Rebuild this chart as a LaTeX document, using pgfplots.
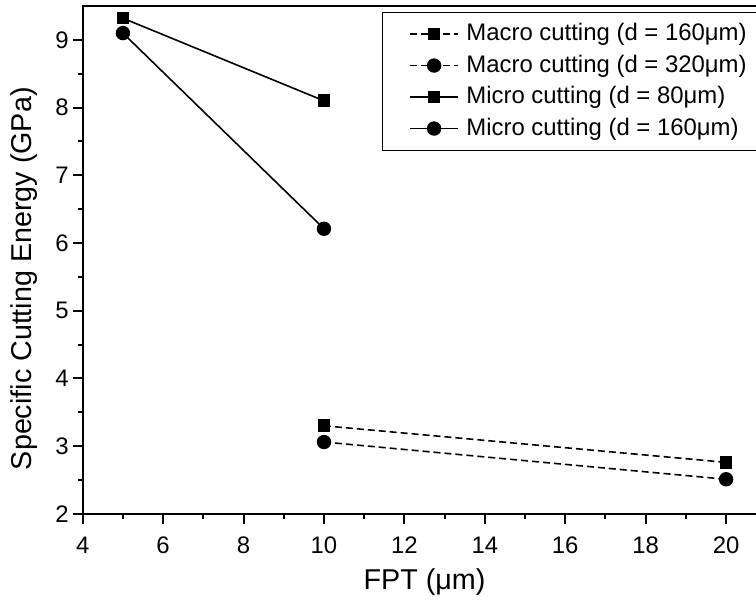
\documentclass[border=0pt]{standalone}
\usepackage{fontspec}
\setmainfont{Liberation Sans}
\usepackage{pgfplots}
\pgfplotsset{compat=1.18}

\pgfplotsset{
  lgimg/.style={legend image code/.code={
    \path (-5bp,0bp) (26bp,0bp);
    \draw[mark repeat=2,mark phase=2,##1]
      plot coordinates {(0bp,0bp) (12bp,0bp) (24bp,0bp)};}},
}

\begin{document}
\begin{tikzpicture}
% page = reference frame, the right edge of the axis is cut off as in the original
\useasboundingbox (-41.35bp,-46.5bp) rectangle (336.65bp,256.9bp);
\clip (-41.35bp,-46.5bp) rectangle (336.65bp,256.9bp);
\begin{axis}[
    at={(0,0)}, anchor=south west,
    width=341.8bp, height=253.9bp, scale only axis,
    xmin=4, xmax=21, ymin=2, ymax=9.5,
    xtick={4,6,...,20}, ytick={2,3,...,9},
    minor x tick num=1, minor y tick num=1,
    tick align=outside, xtick pos=bottom, ytick pos=left,
    major tick length=5bp, minor tick length=2.5bp,
    axis line style={line width=1bp},
    every tick/.style={black, line width=1bp},
    /pgf/number format/assume math mode=true,
    tick label style={font=\fontsize{12}{14}\selectfont},
    xticklabel style={yshift=-3bp},
    yticklabel style={xshift=1.5bp},
    xlabel={FPT (μm)},
    ylabel={Specific Cutting Energy (GPa)},
    label style={font=\fontsize{14.4}{16}\selectfont},
    xlabel style={at={(axis description cs:0.5,-0.1497)}, anchor=base},
    ylabel style={at={(axis description cs:-0.0742,0.463)}, anchor=base},
    legend style={at={(axis description cs:0.4374,0.9888)}, anchor=north west,
      draw=black, line width=0.6bp, fill=white,
      font=\fontsize{12}{14}\selectfont,
      inner xsep=8.5bp, inner ysep=3bp, row sep=0pt,
      nodes={inner xsep=1.75bp, inner ysep=2bp, text height=9.25bp, text depth=2.5bp},
      column 2/.style={nodes={text width=300bp, align=left}}},
    legend cell align=left,
    lgimg,
  ]
\addplot[black, line width=0.8bp, dash pattern=on 3.5bp off 2bp,
         mark=square*, mark size=2.75bp, mark options={solid}]
  coordinates {(10,3.30) (20,2.76)};
\addplot[black, line width=0.8bp, dash pattern=on 3.5bp off 2bp,
         mark=*, mark size=3.2bp, mark options={solid}]
  coordinates {(10,3.06) (20,2.51)};
\addplot[black, line width=0.8bp, mark=square*, mark size=2.75bp]
  coordinates {(5,9.32) (10,8.10)};
\addplot[black, line width=0.8bp, mark=*, mark size=3.2bp]
  coordinates {(5,9.10) (10,6.21)};
\legend{Macro cutting (d = 160μm), Macro cutting (d = 320μm),
        Micro cutting (d = 80μm), Micro cutting (d = 160μm)}
\end{axis}
\end{tikzpicture}
\end{document}
